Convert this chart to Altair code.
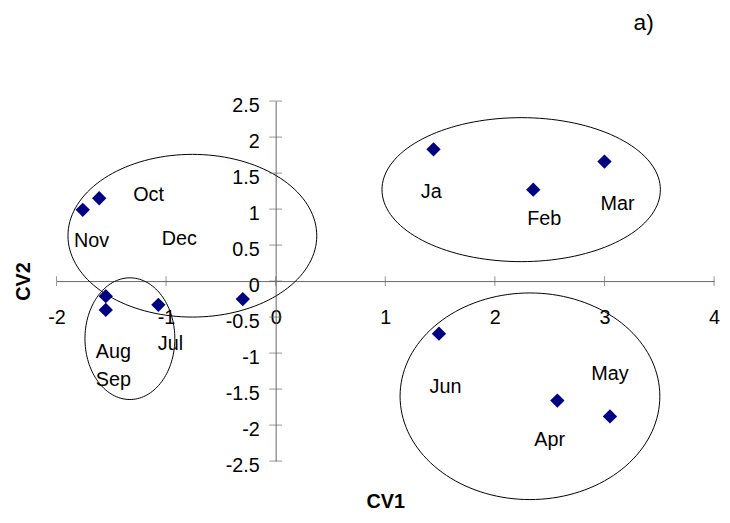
import altair as alt
import numpy as np
import pandas as pd

# ---- data ----
months = ["Ja", "Feb", "Mar", "Apr", "May", "Jun", "Jul", "Aug", "Sep", "Oct", "Nov", "Dec"]
cv1 = [1.44, 2.35, 3.00, 2.57, 3.05, 1.49, -1.07, -1.55, -1.55, -1.61, -1.76, -0.30]
cv2 = [1.83, 1.27, 1.66, -1.66, -1.88, -0.73, -0.33, -0.21, -0.40, 1.15, 0.99, -0.25]

# label anchor positions (data units)
label_x = [1.42, 2.45, 3.12, 2.50, 3.05, 1.55, -0.96, -1.48, -1.48, -1.16, -1.68, -0.88]
label_y = [1.23, 0.86, 1.07, -2.21, -1.29, -1.47, -0.87, -0.99, -1.37, 1.20, 0.55, 0.58]

# cluster ellipses (centre and radii in data units)
ell_id = ["autumn", "summer", "winter", "spring"]
ell_cx = [-0.76, -1.33, 2.24, 2.32]
ell_cy = [0.63, -0.80, 1.27, -1.60]
ell_rx = [1.135, 0.41, 1.27, 1.185]
ell_ry = [1.13, 0.845, 1.00, 1.435]

x_ticks = [-2, -1, 0, 1, 2, 3, 4]
y_ticks = [-2.5, -2, -1.5, -1, -0.5, 0, 0.5, 1, 1.5, 2, 2.5]

FONT = "Liberation Sans"
W, H = 665, 364
LEFT, TOP = 49, 91.3
X0_PAGE = 8 + LEFT + W / 3  # page x of the y-axis line

pts = pd.DataFrame({"x": cv1, "y": cv2, "m": months})
labs = pd.DataFrame({"x": label_x, "y": label_y, "m": months})

t = np.linspace(0, 2 * np.pi, 145)
rows = []
for k, cid in enumerate(ell_id):
    for i, a in enumerate(t):
        rows.append({"c": cid, "i": i,
                     "x": ell_cx[k] + ell_rx[k] * np.cos(a),
                     "y": ell_cy[k] + ell_ry[k] * np.sin(a)})
ell = pd.DataFrame(rows)

xt = pd.DataFrame({"x": x_ticks})
yt = pd.DataFrame({"y": y_ticks})

xscale = alt.Scale(domain=[-2, 4], nice=False, zero=False)
yscale = alt.Scale(domain=[-2.5, 2.5], nice=False, zero=False)

X = alt.X("x:Q", scale=xscale,
          axis=alt.Axis(values=x_ticks, tickCount=20, offset=-H / 2, ticks=False, tickSize=0,
                        grid=False, domainColor="#666666", domainWidth=1,
                        labelFont=FONT, labelFontSize=20, labelColor="black",
                        labelPadding=37, labelBaseline="middle", labelFlush=False,
                        labelOverlap=False, labelExpr="'' + datum.value",
                        title="CV1", titleFont=FONT, titleFontSize=20, titleFontWeight="bold",
                        titleColor="black", titleY=232.5, titleBaseline="bottom"))
Y = alt.Y("y:Q", scale=yscale,
          axis=alt.Axis(values=y_ticks, tickCount=20, offset=-W / 3, ticks=False, tickSize=0,
                        grid=False, domainColor="#666666", domainWidth=1,
                        labelFont=FONT, labelFontSize=20, labelColor="black",
                        labelPadding=16.5, labelOffset=5, labelFlush=False,
                        labelOverlap=False, labelExpr="'' + datum.value",
                        title="CV2", titleFont=FONT, titleFontSize=20, titleFontWeight="bold",
                        titleColor="black", titleX=24 - X0_PAGE, titleY=H / 2,
                        titleBaseline="middle", titleAngle=270))

ellipses = alt.Chart(ell).mark_line(color="black", strokeWidth=1).encode(
    x=X, y=Y, detail="c:N", order="i:Q")

xticks = alt.Chart(xt).mark_tick(orient="vertical", size=10, thickness=1, color="#666666").encode(
    x=X, y=alt.datum(0))
yticks = alt.Chart(yt).mark_tick(orient="horizontal", size=13, thickness=1, color="#666666").encode(
    y=Y, x=alt.datum(0))

points = alt.Chart(pts).mark_point(shape="diamond", filled=True, size=210,
                                   color="#000080", opacity=1).encode(x=X, y=Y)

labels = alt.Chart(labs).mark_text(font=FONT, fontSize=20, color="black",
                                   align="center", baseline="middle").encode(
    x=X, y=Y, text="m:N")

chart = alt.layer(ellipses, xticks, yticks, points, labels).properties(
    width=W, height=H,
    autosize=alt.AutoSizeParams(type="none"),
    padding={"left": LEFT, "top": TOP, "right": 8, "bottom": 51.5},
    title=alt.TitleParams("a)", font=FONT, fontSize=23, fontWeight="normal", color="black",
                          anchor="end", frame="group", dx=-61, offset=62),
).configure_view(stroke=None)

chart.save("out.html", embed_options={"renderer": "svg", "actions": False})
